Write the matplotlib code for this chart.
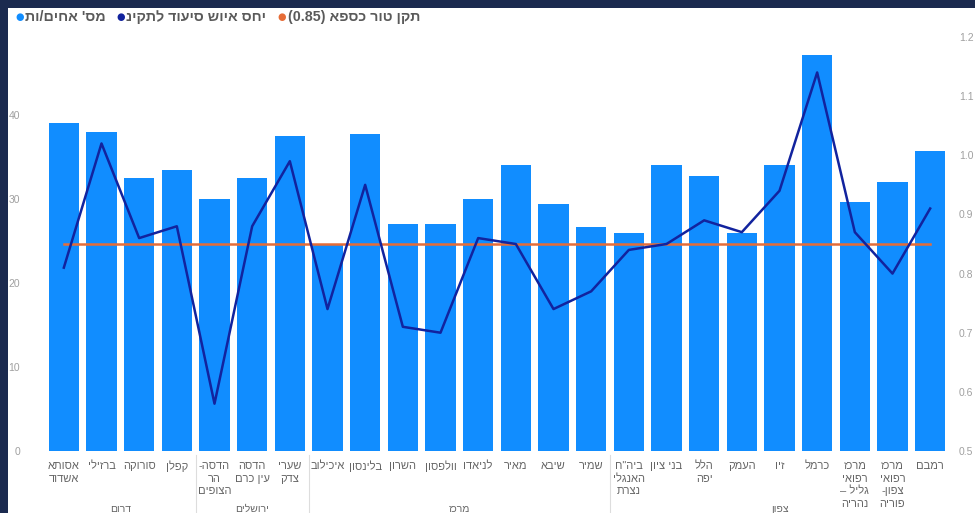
import re
import matplotlib
matplotlib.use('Agg')
import matplotlib.pyplot as plt
from matplotlib.patches import Rectangle
from matplotlib.lines import Line2D

plt.rcParams['font.family'] = ['Liberation Sans', 'DejaVu Sans']

# data (hospital names in logical order, line breaks as wrapped)
hospitals = [
    "אסותא\nאשדוד", "ברזילי", "סורוקה", "קפלן",
    "הדסה-\nהר\nהצופים", "הדסה\nעין כרם", "שערי\nצדק",
    "איכילוב", "בלינסון", "השרון", "וולפסון", "לניאדו", "מאיר", "שיבא", "שמיר",
    'ביה"ח\nהאנגלי\nנצרת', "בני ציון", "הלל\nיפה", "העמק", "זיו", "כרמל",
    "מרכז\nרפואי\nגליל –\nנהריה", "מרכז\nרפואי\nצפון-\nפוריה", "רמבם",
]
nurses = [39.0, 38.0, 32.5, 33.5, 30.0, 32.5, 37.5, 24.7, 37.7, 27.0, 27.0, 30.0,
          34.0, 29.4, 26.7, 26.0, 34.0, 32.7, 26.0, 34.0, 47.1, 29.6, 32.0, 35.7]
ratio = [0.81, 1.02, 0.86, 0.88, 0.58, 0.88, 0.99, 0.74, 0.95, 0.71, 0.70, 0.86,
         0.85, 0.74, 0.77, 0.84, 0.85, 0.89, 0.87, 0.94, 1.14, 0.87, 0.80, 0.91]
standard = 0.85
regions = ["דרום", "ירושלים", "מרכז", "צפון"]
region_sizes = [4, 3, 8, 9]

legend_labels = ["מס' אחים/ות", "יחס איוש סיעוד לתקינ", "תקן טור כספא (0.85)"]
left_ticks = [0, 10, 20, 30, 40]
right_ticks = [0.5, 0.6, 0.7, 0.8, 0.9, 1.0, 1.1, 1.2]

BAR = '#118DFF'
NAVY = '#12239E'
ORANGE = '#E66C37'
FRAME = '#1B2A4F'


def visual(s):
    # matplotlib has no bidi support, so flip each line into visual order
    out = []
    for line in s.split('\n'):
        r = line[::-1].translate(str.maketrans('()', ')('))
        r = re.sub(r'[0-9.]+', lambda m: m.group(0)[::-1], r)
        out.append(r)
    return '\n'.join(out)


W, H = 975, 513
fig = plt.figure(figsize=(W / 100, H / 100), dpi=100, facecolor=FRAME)
fig.patches.append(Rectangle((8 / W, 0), 1, (H - 8) / H, transform=fig.transFigure,
                             facecolor='white', edgecolor='none', zorder=-10))

ax = fig.add_axes([45 / W, (H - 451) / H, (949 - 45) / W, (451 - 37) / H])
ax.set_facecolor('none')
x = list(range(len(hospitals)))

ax.bar(x, nurses, width=0.8, color=BAR, zorder=2)
ax.set_xlim(-0.5, len(hospitals) - 0.5)
ax.set_ylim(0, 49.3)
ax.set_yticks(left_ticks)
ax.set_xticks(x)
ax.set_xticklabels([visual(h) for h in hospitals], fontsize=8, color='#666666',
                   linespacing=1.35, multialignment='center')
ax.tick_params(axis='x', length=0, pad=7)
ax.tick_params(axis='y', length=0, pad=18, labelsize=7.5, labelcolor='#a0a0a0')
for s in ax.spines.values():
    s.set_visible(False)

ax2 = ax.twinx()
ax2.plot(x, [standard] * len(x), color=ORANGE, lw=1.8, zorder=3)
ax2.plot(x, ratio, color=NAVY, lw=1.8, zorder=4)
ax2.set_ylim(0.5, 1.2)
ax2.set_yticks(right_ticks)
ax2.set_yticklabels([f'{t:.1f}' for t in right_ticks])
ax2.tick_params(axis='y', length=0, pad=7, labelsize=7.5, labelcolor='#a0a0a0')
for s in ax2.spines.values():
    s.set_visible(False)

# region level of the hierarchical axis
start = 0
for name, size in zip(regions, region_sizes):
    centre = start + (size - 1) / 2
    ax.text(centre, -0.14, visual(name), transform=ax.get_xaxis_transform(),
            ha='center', va='center', fontsize=7.5, color='#666666', clip_on=False)
    if start > 0:
        ax.add_line(Line2D([start - 0.5, start - 0.5], [-0.01, -0.2],
                           transform=ax.get_xaxis_transform(), color='#dddddd',
                           lw=0.8, clip_on=False))
    start += size

# legend, laid out right to left like the original
legend_items = [(20, 25, BAR), (121, 126, NAVY), (282, 288, ORANGE)]
for label, (dot_x, text_x, col) in zip(legend_labels, legend_items):
    fig.text(dot_x / W, 1 - 17 / H, '●', color=col, fontsize=7, ha='center', va='center',
             family='DejaVu Sans')
    fig.text(text_x / W, 1 - 17 / H, visual(label), color='#5a5a5a', fontsize=10.3,
             fontweight='bold', ha='left', va='center')

fig.savefig('out.png', dpi=100, facecolor=FRAME)
